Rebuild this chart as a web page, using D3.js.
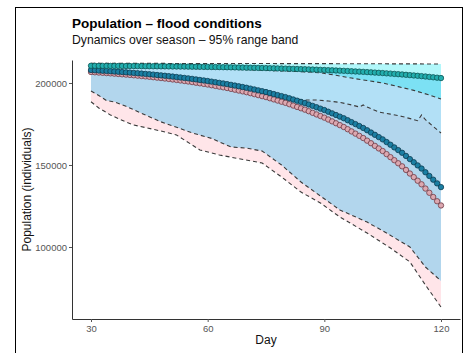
<!DOCTYPE html>
<html><head><meta charset="utf-8">
<script src="https://cdn.jsdelivr.net/npm/d3@7"></script>
<style>body{margin:0;background:#fff;}svg{display:block;font-family:"Liberation Sans",Arial,sans-serif;}</style>
</head><body><svg id="c" width="466" height="353"></svg>
<script>
const days = [30,31,32,33,34,35,36,37,38,39,40,41,42,43,44,45,46,47,48,49,50,51,52,53,54,55,56,57,58,59,60,61,62,63,64,65,66,67,68,69,70,71,72,73,74,75,76,77,78,79,80,81,82,83,84,85,86,87,88,89,90,91,92,93,94,95,96,97,98,99,100,101,102,103,104,105,106,107,108,109,110,111,112,113,114,115,116,117,118,119,120];
const tealMean = [210500,210490,210470,210460,210440,210430,210410,210390,210370,210350,210340,210320,210300,210270,210250,210230,210210,210180,210160,210140,210110,210080,210050,210030,210000,209970,209930,209900,209870,209830,209800,209760,209720,209680,209640,209600,209550,209510,209460,209410,209370,209310,209260,209200,209150,209090,209030,208960,208900,208830,208770,208690,208620,208540,208460,208390,208300,208210,208120,208030,207940,207830,207730,207620,207520,207410,207290,207160,207040,206920,206790,206650,206500,206350,206210,206060,205890,205720,205550,205380,205200,205000,204800,204600,204400,204190,203960,203720,203480,203240,203010];
const blueMean = [207900,207760,207610,207470,207330,207190,207020,206850,206680,206510,206350,206150,205950,205750,205560,205360,205130,204890,204660,204430,204200,203920,203650,203380,203100,202830,202510,202180,201860,201540,201220,200840,200460,200080,199710,199330,198880,198440,197990,197550,197100,196580,196050,195530,195000,194480,193860,193250,192630,192010,191400,190670,189950,189220,188500,187770,186920,186060,185210,184360,183500,182500,181500,180490,179490,178480,177300,176120,174940,173760,172580,171190,169800,168410,167020,165630,163990,162360,160720,159090,157450,155530,153600,151680,149760,147830,145570,143310,141050,138780,136520];
const pinkMean = [206700,206540,206370,206210,206050,205890,205700,205500,205310,205120,204930,204710,204480,204250,204030,203800,203540,203270,203010,202740,202480,202160,201860,201550,201230,200920,200560,200180,199810,199450,199090,198650,198220,197790,197360,196930,196420,195920,195400,194900,194390,193800,193190,192600,191990,191400,190690,190000,189290,188590,187890,187060,186240,185400,184580,183750,182780,181800,180830,179860,178880,177740,176600,175450,174310,173160,171820,170470,169130,167780,166440,164850,163270,161680,160100,158510,156640,154780,152920,151060,149190,147000,144800,142610,140420,138220,135640,133070,130490,127900,125330];

const tealUpperDays = [30,60,90,120];
const tealUpper = [212000,211900,211800,211600];
const tealLowerDays = [30,40,50,60,70,80,85,89,93,97,101,105,109,113,117,120];
const tealLower = [209600,209400,209100,208700,208100,207300,206800,206200,204700,203000,201500,200000,197800,195500,192700,190200];

const blueUpperDays = [30,45,60,75,90,105,120];
const blueUpper = [210300,210000,209600,208900,207800,206100,202800];
const blueLowerDays = [30,32,34,36,39,43,48,52,56,61,66,70,74,79,84,89,94,101,106,112,116,120];
const blueLower = [195100,192400,189300,188500,185800,181500,176300,173000,169600,166200,161000,160300,158500,150000,139600,131100,122600,115200,108500,100000,87800,79300];

const pinkUpperDays = [30,40,50,60,70,75,80,84,88,91,94,97,99,100,101,104,107,110,113,114,115,116,118,120];
const pinkUpper = [207400,205900,203800,200900,196900,194600,191800,189700,189600,189000,188200,186600,185400,186600,185300,182300,181000,179600,177700,177000,180500,177600,173500,169500];
const pinkLowerDays = [30,32,35,39,41,48,52,58,63,74,79,84,89,94,101,107,112,116,120];
const pinkLower = [188600,184800,180500,176200,174400,170700,168300,159200,156100,151200,142700,133500,126800,118300,108500,99400,90900,76800,63400];

const xTicks = [30,60,90,120];
const yTicks = [100000,150000,200000];

const svg = d3.select("#c");
svg.append("rect").attr("x",15.5).attr("y",7.5).attr("width",447).attr("height",360)
  .attr("fill","none").attr("stroke","#000").attr("stroke-width",1);

const L=72, R=460, T=60, B=319;
const x = d3.scaleLinear().domain([25.114,124.886]).range([L,R]);
const y = d3.scaleLinear().domain([56098,214024]).range([B,T]);

const pts = (ds,vs)=>ds.map((d,i)=>[x(d),y(vs[i])]);
const line = d3.line();
function band(ud,uv,ld,lv,fill,op){
  const p = pts(ud,uv).concat(pts(ld,lv).reverse());
  svg.append("path").attr("d",line(p)+"Z").attr("fill",fill).attr("fill-opacity",op).attr("stroke","none");
}
band(pinkUpperDays,pinkUpper,pinkLowerDays,pinkLower,"#ffc0cb",0.42);
band(blueUpperDays,blueUpper,blueLowerDays,blueLower,"#7ecbf0",0.6);
band(tealUpperDays,tealUpper,tealLowerDays,tealLower,"#00e5ee",0.3);

function dashed(ds,vs){
  svg.append("path").attr("d",line(pts(ds,vs))).attr("fill","none")
    .attr("stroke","#3a3a3a").attr("stroke-width",1.1).attr("stroke-dasharray","4,3");
}
[[pinkUpperDays,pinkUpper],[pinkLowerDays,pinkLower],[blueUpperDays,blueUpper],[blueLowerDays,blueLower],[tealUpperDays,tealUpper],[tealLowerDays,tealLower]].forEach(a=>dashed(a[0],a[1]));

function points(vs,fill,stroke){
  svg.append("g").selectAll("circle").data(days).join("circle")
    .attr("cx",d=>x(d)).attr("cy",(d,i)=>y(vs[i])).attr("r",2.7)
    .attr("fill",fill).attr("stroke",stroke).attr("stroke-width",0.8);
}
points(pinkMean,"#dca8b0","#6e3844");
points(blueMean,"#1b7fa3","#0b3c52");
points(tealMean,"#22aeae","#0c5656");

const xa = svg.append("g").attr("transform",`translate(0,${B})`)
  .call(d3.axisBottom(x).tickValues(xTicks).tickSize(3).tickSizeOuter(0).tickPadding(3));
const ya = svg.append("g").attr("transform",`translate(${L},0)`)
  .call(d3.axisLeft(y).tickValues(yTicks).tickSize(3).tickSizeOuter(0).tickPadding(2).tickFormat(d3.format("d")));
[xa,ya].forEach(a=>{
  a.select(".domain").attr("stroke","#333").attr("stroke-width",1);
  a.selectAll(".tick line").attr("stroke","#555");
  a.selectAll(".tick text").attr("fill","#555").style("font-size","9.5px").style("font-family","Liberation Sans, Arial, sans-serif");
});

svg.append("text").attr("x",72).attr("y",28).attr("font-weight","bold").attr("font-size","13.5px").attr("fill","#000").text("Population – flood conditions");
svg.append("text").attr("x",72).attr("y",43.5).attr("font-size","12.2px").attr("fill","#111").text("Dynamics over season – 95% range band");
svg.append("text").attr("x",(L+R)/2).attr("y",344).attr("text-anchor","middle").attr("font-size","12px").attr("fill","#111").text("Day");
svg.append("text").attr("transform",`translate(31,${(T+B)/2}) rotate(-90)`).attr("text-anchor","middle").attr("font-size","12px").attr("fill","#111").text("Population (individuals)");
</script></body></html>
